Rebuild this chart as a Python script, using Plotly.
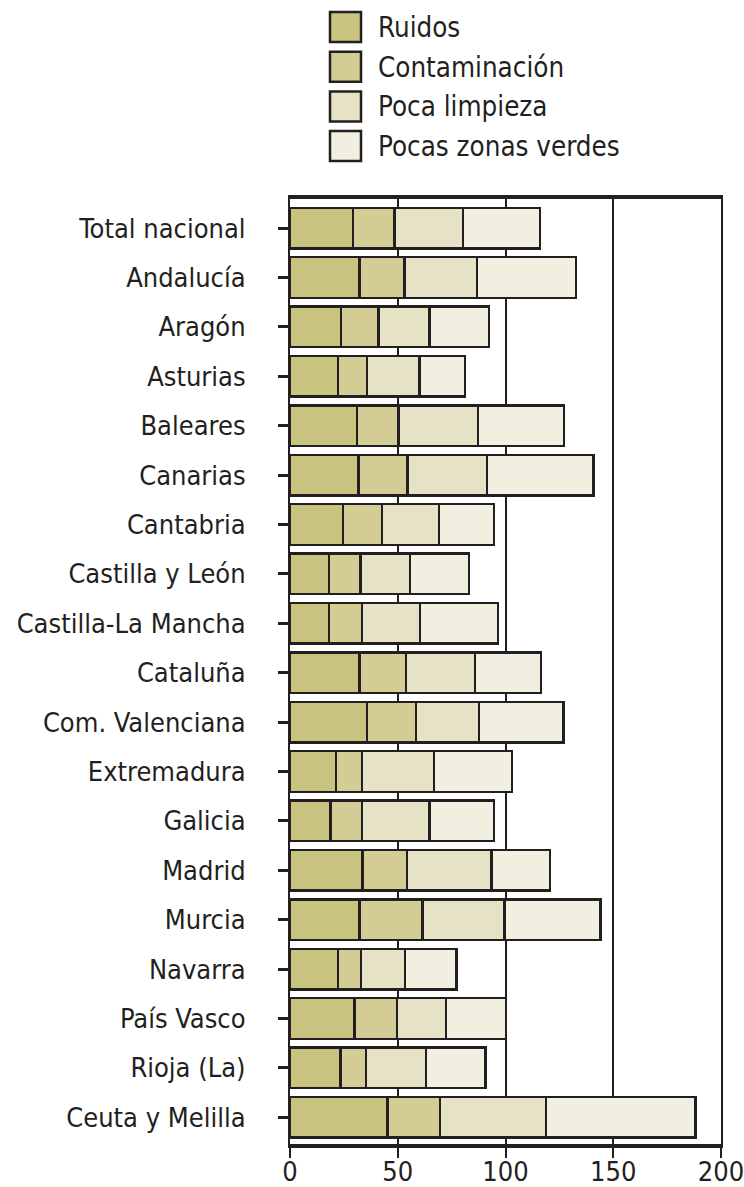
import plotly.graph_objects as go

categories = ["Total nacional", "Andalucía", "Aragón", "Asturias", "Baleares", "Canarias",
              "Cantabria", "Castilla y León", "Castilla-La Mancha", "Cataluña",
              "Com. Valenciana", "Extremadura", "Galicia", "Madrid", "Murcia", "Navarra",
              "País Vasco", "Rioja (La)", "Ceuta y Melilla"]

ruidos = [29.1, 32.2, 23.7, 22.4, 31.1, 31.7, 24.6, 18.0, 18.1, 32.2,
          35.6, 21.4, 18.7, 33.6, 32.2, 22.4, 29.9, 23.5, 45.2]
contaminacion = [19.3, 20.9, 17.3, 13.2, 19.2, 22.9, 18.0, 14.8, 15.3, 21.7,
                 22.9, 11.9, 14.6, 20.6, 29.2, 10.6, 19.8, 11.9, 24.5]
poca_limpieza = [31.8, 33.7, 23.7, 24.5, 36.8, 36.7, 26.4, 22.9, 27.0, 31.9,
                 29.3, 33.6, 31.4, 39.3, 38.1, 20.3, 22.7, 27.8, 49.0]
pocas_zonas_verdes = [35.9, 46.0, 27.6, 21.2, 40.1, 49.6, 25.7, 27.3, 36.0, 30.8,
                      39.1, 36.2, 29.9, 27.2, 44.6, 23.9, 27.9, 27.5, 69.5]

series_names = ["Ruidos", "Contaminación", "Poca limpieza", "Pocas zonas verdes"]
series_values = [ruidos, contaminacion, poca_limpieza, pocas_zonas_verdes]
series_colors = ["#c9c380", "#d3cd95", "#e6e2c6", "#f1efdf"]

x_ticks = [0, 50, 100, 150, 200]

INK = "#231f20"
FONT = "DejaVu Sans Condensed, Liberation Sans Narrow, Arial Narrow, sans-serif"

W, H = 744, 1187
L, R, T, B = 290, 23, 199, 43

fig = go.Figure()
for name, vals, col in zip(series_names, series_values, series_colors):
    fig.add_trace(go.Bar(
        y=categories, x=vals, name=name, orientation="h",
        marker=dict(color=col, line=dict(color=INK, width=2.4)),
        showlegend=False,
    ))

# manual legend (large square swatches), positions in window pixels
pw, ph = W - L - R, H - T - B
def px_x(x):
    return (x - L) / pw
def px_y(y):
    return 1 + (T - y) / ph

for i, (name, col) in enumerate(zip(series_names, series_colors)):
    cy = 27 + i * 39.7
    fig.add_shape(type="rect", xref="paper", yref="paper",
                  x0=px_x(330), x1=px_x(361), y0=px_y(cy - 15), y1=px_y(cy + 15),
                  fillcolor=col, line=dict(color=INK, width=2.5))
    fig.add_annotation(xref="paper", yref="paper", x=px_x(376), y=px_y(cy),
                       text=name, showarrow=False, xanchor="left", yanchor="middle",
                       font=dict(family=FONT, size=27.5, color=INK))

fig.update_layout(
    barmode="stack",
    bargap=0.18,
    width=W, height=H,
    margin=dict(l=L, r=R, t=T, b=B, pad=0, autoexpand=False),
    plot_bgcolor="white", paper_bgcolor="white",
    font=dict(family=FONT, size=27, color=INK),
)
fig.update_xaxes(
    range=[0, 200], tickvals=x_ticks, ticktext=[str(v) for v in x_ticks],
    showgrid=True, gridcolor=INK, gridwidth=2,
    showline=True, linecolor=INK, linewidth=3.5, mirror=True,
    ticks="outside", ticklen=10, tickwidth=2, tickcolor=INK,
    ticklabelstandoff=-9, ticklabeloverflow="allow",
    zeroline=False, fixedrange=True, automargin=False,
)
fig.update_yaxes(
    range=[18.54, -0.59],
    showline=True, linecolor=INK, linewidth=2, mirror=True,
    ticks="outside", ticklen=10, tickwidth=3, tickcolor=INK,
    ticklabelstandoff=27,
    showgrid=False, zeroline=False, automargin=False,
)
fig.write_html(
    "out.html",
    config={"displayModeBar": False},
    post_script="document.body.style.margin='0';document.body.style.overflow='hidden';",
)
